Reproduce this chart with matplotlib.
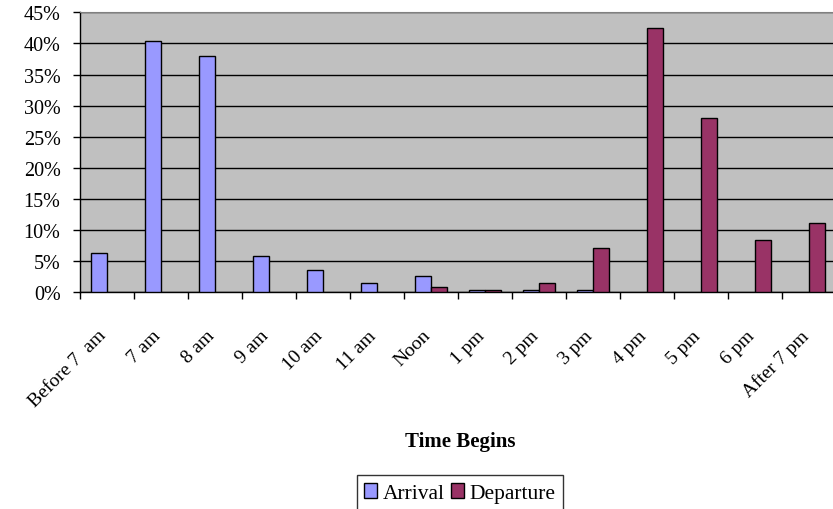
import numpy as np
import matplotlib.pyplot as plt
from matplotlib.ticker import FuncFormatter
from matplotlib.transforms import ScaledTranslation

plt.rcParams['font.family'] = ['Liberation Serif', 'DejaVu Serif']

# percentage of trips starting in each time slot
times = ['Before 7  am', '7 am', '8 am', '9 am', '10 am', '11 am', 'Noon',
         '1 pm', '2 pm', '3 pm', '4 pm', '5 pm', '6 pm', 'After 7 pm']
arrival = [6.3, 40.4, 37.9, 5.9, 3.6, 1.5, 2.7, 0.4, 0.4, 0.4, 0, 0, 0, 0]
departure = [0, 0, 0, 0, 0, 0, 0.9, 0.4, 1.5, 7.2, 42.5, 28.0, 8.4, 11.1]

fig = plt.figure(figsize=(8.33, 5.1), dpi=100)
ax = fig.add_axes([80 / 833, 1 - 293.3 / 510, 756 / 833, 280 / 510])
ax.set_facecolor('#C0C0C0')

x = np.arange(len(times))
w = 0.29
arr = np.array(arrival)
dep = np.array(departure)
# empty slots get no bar at all
ax.bar(x[arr > 0] - w / 2, arr[arr > 0], w, color='#9999FF', edgecolor='black',
       linewidth=1, label='Arrival', zorder=3)
ax.bar(x[dep > 0] + w / 2, dep[dep > 0], w, color='#993366', edgecolor='black',
       linewidth=1, label='Departure', zorder=3)

ax.set_xlim(-0.5, len(times) - 0.5)
ax.set_ylim(0, 45)
ax.set_yticks(np.arange(0, 46, 5))
ax.yaxis.set_major_formatter(FuncFormatter(lambda v, p: f'{v:.0f}%'))
ax.grid(axis='y', color='black', linewidth=1, zorder=1)

# ticks sit on the category boundaries, labels in the middle
ax.set_xticks(np.arange(len(times) + 1) - 0.5)
ax.set_xticklabels([])
ax.set_xticks(x, minor=True)
ax.set_xticklabels(times, minor=True, rotation=45, ha='right', va='center',
                   rotation_mode='anchor', fontsize=14)
ax.tick_params(axis='x', which='minor', length=0, pad=29)
ax.tick_params(axis='x', which='major', length=5, width=1, direction='out')
ax.tick_params(axis='y', length=5, width=1, direction='out', labelsize=14.5, pad=9)
for lbl in ax.get_xticklabels(minor=True):
    lbl.set_transform(lbl.get_transform() + ScaledTranslation(-3 / 100, 0, fig.dpi_scale_trans))

for s in ['left', 'bottom']:
    ax.spines[s].set_color('black')
    ax.spines[s].set_linewidth(1)
ax.spines['top'].set_color('#808080')
ax.spines['right'].set_visible(False)

fig.text(460 / 833, 1 - 442 / 510, 'Time Begins', ha='center', va='center',
         fontsize=15, fontweight='bold')

leg = fig.legend(loc='center', bbox_to_anchor=(460 / 833, 1 - 494 / 510), ncol=2,
                 fontsize=15.5, frameon=True, fancybox=False, edgecolor='black',
                 handlelength=0.6, handleheight=0.7, handletextpad=0.25,
                 columnspacing=0.3, borderpad=0.35, borderaxespad=0)
leg.get_frame().set_linewidth(1)

fig.savefig('out.png', dpi=100)
